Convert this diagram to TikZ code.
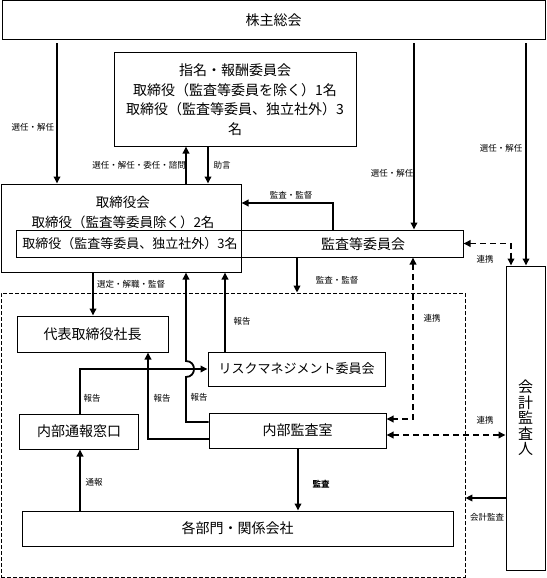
\documentclass[tikz,border=0pt]{standalone}
\usepackage{fontspec}
\newfontfamily\jp{Noto Sans CJK JP}
\usetikzlibrary{arrows.meta}
\begin{document}
\begin{tikzpicture}[x=1pt,y=-1pt,
  box/.style={draw,line width=1pt,inner sep=0pt,align=center,font=\jp\fontsize{14}{19.5}\selectfont},
  txt/.style={inner sep=0pt,align=center,font=\jp\fontsize{14}{19.5}\selectfont},
  lbl/.style={inner sep=0pt,font=\jp\fontsize{8.5}{10}\selectfont},
  arr/.style={line width=1.8pt,-{Triangle[length=7pt,width=6.5pt]}},
  dbl/.style={line width=1.8pt,dash pattern=on 6pt off 4pt,{Triangle[length=7pt,width=6.5pt]}-{Triangle[length=7pt,width=6.5pt]}},
  grp/.style={draw,line width=0.8pt,dash pattern=on 4pt off 2pt,inner sep=0pt}
  ]
\useasboundingbox (0,0) rectangle (546,578);
% x / y helper coordinates
\foreach \x in {57,80,93,148,186,208,225,297,298,333,413,414,511,526}{\coordinate (c\x) at (\x,0);}
\foreach \y in {203,419,422,435,439,498}{\coordinate (r\y) at (0,\y);}
% boxes
\node[box,minimum width=543pt,minimum height=39pt] (soukai) at (273.5,20.5) {株主総会};
\node[box,minimum width=242pt,minimum height=93pt] (shimei) at (235,99.5) {指名・報酬委員会\\取締役（監査等委員を除く）1名\\取締役（監査等委員、独立社外）3\\名};
\node[box,minimum width=240pt,minimum height=88pt] (tb) at (121,228) {};
\node[txt,font=\jp\fontsize{13.5}{20}\selectfont] (tbt) at (123,212) {取締役会\\取締役（監査等委員除く）2名};
\node[box,minimum width=447pt,minimum height=27pt] (kansa) at (239.5,243.5) {};
\node[txt,font=\jp\fontsize{13}{15}\selectfont] (kt1) at (130,244) {取締役（監査等委員、独立社外）3名};
\node[txt] (kt2) at (363,244) {監査等委員会};
\node[box,minimum width=39pt,minimum height=304pt,font=\jp\fontsize{15}{15.5}\selectfont] (kaikei) at (525.5,418) {会\\計\\監\\査\\人};
\node[grp,minimum width=464pt,minimum height=284pt] (group) at (233,435) {};
\node[box,minimum width=151pt,minimum height=36pt] (daihyo) at (92.5,334) {代表取締役社長};
\node[box,minimum width=177pt,minimum height=34pt,font=\jp\fontsize{13}{15}\selectfont] (risk) at (296.5,369) {リスクマネジメント委員会};
\node[box,minimum width=119.5pt,minimum height=35pt] (tsuho) at (79,431.5) {内部通報窓口};
\node[box,minimum width=177pt,minimum height=35pt] (naibu) at (297.5,430.5) {内部監査室};
\node[box,minimum width=431pt,minimum height=35pt] (kakubu) at (237.5,528.5) {各部門・関係会社};
% hop coordinates
\coordinate (hopb) at (186,377);
\coordinate (hopt) at (186,361);
% connectors
\draw[arr,shorten <=3pt] (soukai.south -| c57) -- (tb.north -| c57);
\draw[arr,shorten <=3pt] (soukai.south -| c414) -- (kansa.north -| c414);
\draw[arr,shorten <=3pt] (soukai.south -| c526) -- (kaikei.north -| c526);
\draw[arr] (tb.north -| c186) -- (shimei.south -| c186);
\draw[arr] (shimei.south -| c208) -- (tb.north -| c208);
\draw[arr] (kansa.north -| c333) |- (tb.east |- r203);
\draw[arr] (kansa.south -| c297) -- (group.north -| c297);
\draw[arr] (tb.south -| c93) -- (daihyo.north -| c93);
\draw[dbl] (kansa.east) -| (kaikei.north -| c511);
\draw[dbl] (kansa.south -| c413) |- (naibu.east |- r419);
\draw[dbl] (naibu.east |- r435) -- (kaikei.west |- r435);
\draw[arr] (kaikei.west |- r498) -- (group.east |- r498);
\draw[arr] (naibu.south -| c298) -- (kakubu.north -| c298);
\draw[arr] (kakubu.north -| c80) -- (tsuho.south -| c80);
\draw[arr] (tsuho.north -| c80) |- (risk.west);
\draw[arr] (naibu.west |- r439) -| (daihyo.south -| c148);
\draw[arr] (naibu.west |- r422) -| (hopb) .. controls (196.7,377) and (196.7,361) .. (hopt) -- (tb.south -| c186);
\draw[arr] (risk.north -| c225) -- (tb.south -| c225);
% labels
\node[lbl] (l1) at (33,127) {選任・解任};
\node[lbl] (l2) at (392,173) {選任・解任};
\node[lbl] (l3) at (501,148) {選任・解任};
\node[lbl] (l4) at (139,165) {選任・解任・委任・諮問};
\node[lbl] (l5) at (222,165) {助言};
\node[lbl] (l6) at (291,195) {監査・監督};
\node[lbl] (l7) at (337,280) {監査・監督};
\node[lbl] (l8) at (131,284) {選定・解職・監督};
\node[lbl] (l9) at (485,259) {連携};
\node[lbl] (l10) at (432,318) {連携};
\node[lbl] (l11) at (485,420) {連携};
\node[lbl] (l12) at (487,517) {会計監査};
\node[lbl,font=\jp\bfseries\fontsize{8.5}{10}\selectfont] (l13) at (321,484) {監査};
\node[lbl] (l14) at (94,482) {通報};
\node[lbl] (l15) at (92,398) {報告};
\node[lbl] (l16) at (162,398) {報告};
\node[lbl] (l17) at (199,397) {報告};
\node[lbl] (l18) at (242,321) {報告};
\end{tikzpicture}
\end{document}
